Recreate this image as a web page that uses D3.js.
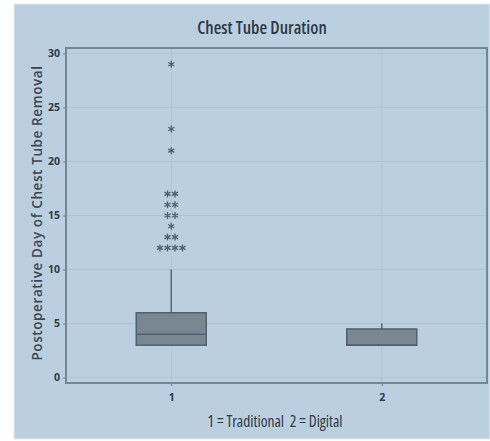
<!DOCTYPE html>
<html>
<head>
<meta charset="utf-8">
<script src="https://cdn.jsdelivr.net/npm/d3@7"></script>
<style>
  body { margin: 0; background: #fff; }
  svg { display: block; }
</style>
</head>
<body>
<div id="chart"></div>
<script>
// Box stats per group
const groups = ["1", "2"];
const q1 = [3, 3];
const medians = [4, 3];
const q3 = [6, 4.5];
const whiskerLow = [3, 3];
const whiskerHigh = [10, 5];
// Outliers (group 1 only)
const outliers1 = [29, 23, 21, 17, 17, 16, 16, 15, 15, 14, 13, 13, 12, 12, 12, 12];
const yTicks = [0, 5, 10, 15, 20, 25, 30];

const width = 490, height = 441;
const margin = { top: 48, right: 3, bottom: 58, left: 66 };
const innerW = width - margin.left - margin.right;
const innerH = height - margin.top - margin.bottom;

const svg = d3.select("#chart").append("svg")
  .attr("width", width)
  .attr("height", height);

// Outer panel
svg.append("rect")
  .attr("x", 14).attr("y", 4)
  .attr("width", width - 14).attr("height", 435)
  .attr("fill", "#bbcfe0")
  .attr("stroke", "#e4ecf2").attr("stroke-width", 1);

const g = svg.append("g")
  .attr("transform", "translate(" + margin.left + "," + margin.top + ")");

// Scales
const x = d3.scalePoint().domain(groups).range([0, innerW]).padding(0.5);
const y = d3.scaleLinear().domain([-0.5, 30.5]).range([innerH, 0]);

// Grid lines
g.append("g").selectAll("line")
  .data(yTicks)
  .join("line")
  .attr("x1", 0).attr("x2", innerW)
  .attr("y1", (d) => y(d)).attr("y2", (d) => y(d))
  .attr("stroke", "#aec3d5").attr("stroke-width", 1);

g.append("g").selectAll("line")
  .data(groups)
  .join("line")
  .attr("x1", (d) => x(d)).attr("x2", (d) => x(d))
  .attr("y1", 0).attr("y2", innerH)
  .attr("stroke", "#aec3d5").attr("stroke-width", 1);

// Axes
const yAxis = g.append("g")
  .call(d3.axisLeft(y).tickValues(yTicks).tickSize(3).tickPadding(3));
const xAxis = g.append("g")
  .attr("transform", "translate(0," + innerH + ")")
  .call(d3.axisBottom(x).tickSize(3).tickPadding(8));

[yAxis, xAxis].forEach((a) => {
  a.select(".domain").remove();
  a.selectAll(".tick line").attr("stroke", "#6a7f92");
  a.selectAll(".tick text")
    .attr("fill", "#2e3a46")
    .style("font-family", "'Open Sans', sans-serif")
    .style("font-size", "10.5px")
    .style("font-weight", "bold");
});

// Plot frame
g.append("rect")
  .attr("x", 0).attr("y", 0)
  .attr("width", innerW).attr("height", innerH)
  .attr("fill", "none")
  .attr("stroke", "#72879a").attr("stroke-width", 2);

// Boxes
const boxW = 70;
const boxData = groups.map((d, i) => ({
  key: d, q1: q1[i], med: medians[i], q3: q3[i], lo: whiskerLow[i], hi: whiskerHigh[i]
}));

const box = g.append("g").selectAll("g")
  .data(boxData)
  .join("g");

box.append("line")
  .attr("x1", (d) => x(d.key)).attr("x2", (d) => x(d.key))
  .attr("y1", (d) => y(d.hi)).attr("y2", (d) => y(d.q3))
  .attr("stroke", "#566878").attr("stroke-width", 1.5);

box.append("line")
  .attr("x1", (d) => x(d.key)).attr("x2", (d) => x(d.key))
  .attr("y1", (d) => y(d.q1)).attr("y2", (d) => y(d.lo))
  .attr("stroke", "#566878").attr("stroke-width", 1.5);

box.append("rect")
  .attr("x", (d) => x(d.key) - boxW / 2)
  .attr("y", (d) => y(d.q3))
  .attr("width", boxW)
  .attr("height", (d) => y(d.q1) - y(d.q3))
  .attr("fill", "#7a8791")
  .attr("stroke", "#4e6072").attr("stroke-width", 1.5);

box.append("line")
  .attr("x1", (d) => x(d.key) - boxW / 2).attr("x2", (d) => x(d.key) + boxW / 2)
  .attr("y1", (d) => y(d.med)).attr("y2", (d) => y(d.med))
  .attr("stroke", "#4e6072").attr("stroke-width", 1.5);

// Outliers: duplicates sit side by side
const counts = d3.rollups(outliers1, (v) => v.length, (d) => d);
const outPts = [];
counts.forEach(([v, n]) => {
  for (let k = 0; k < n; k++) outPts.push({ v: v, off: (k - (n - 1) / 2) * 7.5 });
});

function asterisk(r) {
  let p = "";
  for (let a = 0; a < 3; a++) {
    const t = Math.PI / 2 + a * Math.PI / 3;
    const dx = r * Math.cos(t), dy = r * Math.sin(t);
    p += "M" + (-dx) + "," + (-dy) + "L" + dx + "," + dy;
  }
  return p;
}

g.append("g").selectAll("path")
  .data(outPts)
  .join("path")
  .attr("transform", (d) => "translate(" + (x("1") + d.off) + "," + y(d.v) + ")")
  .attr("d", asterisk(3.5))
  .attr("stroke", "#4f6173").attr("stroke-width", 1.3)
  .attr("fill", "none");

// Title and labels
svg.append("text")
  .attr("x", 262).attr("y", 34)
  .attr("text-anchor", "middle")
  .attr("fill", "#2c3946")
  .style("font-family", "'Open Sans', sans-serif")
  .style("font-size", "17.5px")
  .style("font-weight", "600")
  .style("font-stretch", "condensed")
  .text("Chest Tube Duration");

svg.append("text")
  .attr("x", 275).attr("y", 427)
  .attr("text-anchor", "middle")
  .attr("fill", "#2c3946")
  .style("font-family", "'Open Sans', sans-serif")
  .style("font-size", "15.5px")
  .style("font-stretch", "condensed")
  .style("white-space", "pre")
  .text("1 = Traditional  2 = Digital");

svg.append("text")
  .attr("transform", "translate(42,213) rotate(-90)")
  .attr("text-anchor", "middle")
  .attr("fill", "#3a4856")
  .style("font-family", "'Open Sans', sans-serif")
  .style("font-size", "13.5px")
  .style("font-weight", "600")
  .style("letter-spacing", "0.6px")
  .text("Postoperative Day of Chest Tube Removal");
</script>
</body>
</html>
